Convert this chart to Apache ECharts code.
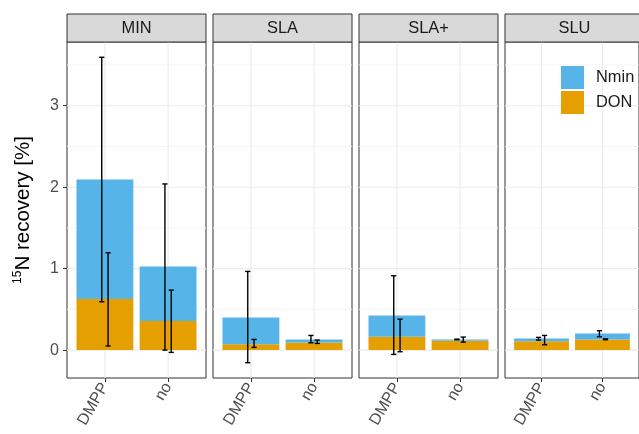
<!DOCTYPE html>
<html><head><meta charset="utf-8">
<script src="https://cdn.jsdelivr.net/npm/echarts@6/dist/echarts.min.js"></script>
<style>html,body{margin:0;padding:0;background:#fff}#c{width:639px;height:434px}</style>
</head><body><div id="c"></div>
<script>
const panels = ['MIN', 'SLA', 'SLA+', 'SLU'];
const categories = ['DMPP', 'no'];
const donMean  = [[0.626, 0.356], [0.072, 0.094], [0.164, 0.115], [0.110, 0.131]];
const nminMean = [[1.469, 0.671], [0.329, 0.037], [0.262, 0.016], [0.033, 0.074]];
// error bars (low, high) of the stacked total (Nmin) and of DON
const nminLow  = [[0.594, 0.000], [-0.155, 0.090], [-0.053, 0.127], [0.123, 0.164]];
const nminHigh = [[3.595, 2.040], [0.966, 0.180], [0.913, 0.135], [0.156, 0.238]];
const donLow   = [[0.050, -0.028], [0.033, 0.082], [-0.020, 0.098], [0.066, 0.128]];
const donHigh  = [[1.195, 0.736], [0.131, 0.123], [0.380, 0.160], [0.180, 0.138]];
const yTicks = [0, 1, 2, 3];
const yMinor = [0.5, 1.5, 2.5, 3.5];

const FONT = '"Liberation Sans", Arial, Helvetica, sans-serif';
const C_NMIN = '#56B4E9', C_DON = '#E69F00';
const DODGE = 0.05, BAR_W = 0.9;
const catPos = categories.map((c, k) => k + 1);

function barRender(params, api) {
  const x = api.value(0), lo = api.value(1), hi = api.value(2);
  const a = api.coord([x - BAR_W / 2, hi]), b = api.coord([x + BAR_W / 2, lo]);
  return {type: 'rect', shape: {x: a[0], y: a[1], width: b[0] - a[0], height: b[1] - a[1]},
    style: {fill: api.visual('color')}};
}

const grids = [], xAxes = [], yAxes = [], series = [], graphics = [];
panels.forEach((p, i) => {
  const left = 67 + 146 * i;
  grids.push({left: left, top: 42, width: 139, height: 336, show: true,
    borderColor: '#333333', borderWidth: 1, backgroundColor: '#ffffff'});
  xAxes.push({type: 'value', gridIndex: i, min: 0.4, max: 2.6,
    axisLine: {show: false, onZero: false}, splitLine: {show: false},
    axisTick: {show: true, customValues: catPos, length: 4, lineStyle: {color: '#333333', width: 1}},
    axisLabel: {show: true, customValues: catPos, rotate: 60, fontSize: 16, color: '#4d4d4d', margin: 6,
      fontFamily: FONT, formatter: v => categories[Math.round(v) - 1] || ''}});
  yAxes.push({type: 'value', gridIndex: i, min: -0.3425, max: 3.7825,
    axisLine: {show: false, onZero: false}, splitLine: {show: false},
    axisTick: {show: i === 0, customValues: yTicks, length: 4, lineStyle: {color: '#333333', width: 1}},
    axisLabel: {show: i === 0, customValues: yTicks, fontSize: 16, color: '#4d4d4d', margin: 8, fontFamily: FONT},
    name: i === 0 ? '{sup|15}{m|N recovery [%]}' : '',
    nameLocation: 'middle', nameRotate: 90, nameGap: 33,
    nameTextStyle: {color: '#000', fontFamily: FONT,
      rich: {sup: {fontSize: 12, verticalAlign: 'top', fontFamily: FONT, color: '#000', lineHeight: 22},
             m: {fontSize: 20.5, fontFamily: FONT, color: '#000', lineHeight: 22}}}});

  // gridlines
  const gl = [];
  yTicks.forEach(v => gl.push({kind: 'h', v: v, major: true}));
  yMinor.forEach(v => gl.push({kind: 'h', v: v, major: false}));
  catPos.forEach(v => gl.push({kind: 'v', v: v, major: true}));
  series.push({type: 'custom', xAxisIndex: i, yAxisIndex: i, z: 1, silent: true,
    data: gl.map(g => g.kind === 'h' ? [1, g.v] : [g.v, 0]),
    renderItem: function (params, api) {
      const g = gl[params.dataIndex];
      const cs = params.coordSys;
      const st = {stroke: g.major ? '#ebebeb' : '#f4f4f4', lineWidth: g.major ? 1.1 : 0.9};
      if (g.kind === 'h') {
        const y = api.coord([1, g.v])[1];
        return {type: 'line', shape: {x1: cs.x, y1: y, x2: cs.x + cs.width, y2: y}, style: st};
      }
      const x = api.coord([g.v, 0])[0];
      return {type: 'line', shape: {x1: x, y1: cs.y, x2: x, y2: cs.y + cs.height}, style: st};
    }});

  // stacked bars: DON at the bottom, Nmin on top of it
  series.push({type: 'custom', name: 'DON', xAxisIndex: i, yAxisIndex: i, z: 2, silent: true,
    itemStyle: {color: C_DON}, encode: {x: 0, y: [1, 2]}, renderItem: barRender,
    data: catPos.map((x, k) => [x, 0, donMean[i][k]])});
  series.push({type: 'custom', name: 'Nmin', xAxisIndex: i, yAxisIndex: i, z: 2, silent: true,
    itemStyle: {color: C_NMIN}, encode: {x: 0, y: [1, 2]}, renderItem: barRender,
    data: catPos.map((x, k) => [x, donMean[i][k], donMean[i][k] + nminMean[i][k]])});

  const eb = [];
  catPos.forEach((x, k) => {
    eb.push([x - DODGE, nminLow[i][k], nminHigh[i][k]]);
    eb.push([x + DODGE, donLow[i][k], donHigh[i][k]]);
  });
  series.push({type: 'custom', xAxisIndex: i, yAxisIndex: i, z: 3, silent: true,
    encode: {x: 0, y: [1, 2]}, data: eb,
    renderItem: function (params, api) {
      const x = api.value(0), lo = api.value(1), hi = api.value(2);
      const a = api.coord([x, hi]), b = api.coord([x, lo]);
      const cw = 2.6, st = {stroke: '#000', lineWidth: 1.4};
      return {type: 'group', children: [
        {type: 'line', shape: {x1: a[0], y1: a[1], x2: b[0], y2: b[1]}, style: st},
        {type: 'line', shape: {x1: a[0] - cw, y1: a[1], x2: a[0] + cw, y2: a[1]}, style: st},
        {type: 'line', shape: {x1: b[0] - cw, y1: b[1], x2: b[0] + cw, y2: b[1]}, style: st}
      ]};
    }});

  graphics.push({type: 'rect', shape: {x: left, y: 14, width: 139, height: 28},
    style: {fill: '#d9d9d9', stroke: '#333333', lineWidth: 1}, z: 10});
  graphics.push({type: 'text', x: left + 69.5, y: 28.5, z: 11,
    style: {text: p, fill: '#1a1a1a', font: '16.4px ' + FONT, align: 'center', verticalAlign: 'middle'}});
});

const chart = echarts.init(document.getElementById('c'), null, {renderer: 'canvas'});
chart.setOption({
  animation: false,
  textStyle: {fontFamily: FONT},
  grid: grids, xAxis: xAxes, yAxis: yAxes, series: series, graphic: graphics,
  legend: {data: [{name: 'Nmin', itemStyle: {color: C_NMIN}}, {name: 'DON', itemStyle: {color: C_DON}}],
    orient: 'vertical', left: 561, top: 66, padding: 0,
    itemWidth: 23, itemHeight: 23, itemGap: 2, icon: 'rect', selectedMode: false,
    textStyle: {fontSize: 16.4, color: '#1a1a1a', fontFamily: FONT, padding: [0, 0, 0, 7]}}
});
</script></body></html>
